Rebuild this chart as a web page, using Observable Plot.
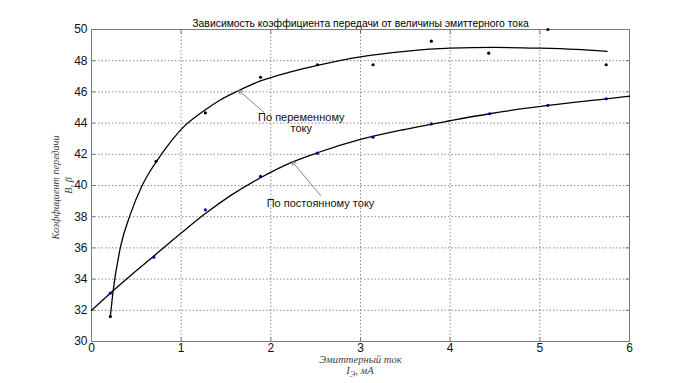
<!DOCTYPE html>
<html>
<head>
<meta charset="utf-8">
<script src="https://cdn.jsdelivr.net/npm/d3@7"></script>
<script src="https://cdn.jsdelivr.net/npm/@observablehq/plot@0.6"></script>
<style>
  html, body { margin: 0; padding: 0; background: #fff; }
</style>
</head>
<body>
<div id="chart"></div>
<script>
// ---- data ----
const titleText = "Зависимость коэффициента передачи от величины эмиттерного тока";
const yLabelLines = ["Коэффициент передачи", "B, β"];
const xLabelLine1 = "Эмиттерный ток";

const xTicks = [0, 1, 2, 3, 4, 5, 6];
const yTicks = [30, 32, 34, 36, 38, 40, 42, 44, 46, 48, 50];

// measured points: AC (по переменному току)
const acX = [0.21, 0.72, 1.27, 1.885, 2.52, 3.14, 3.79, 4.43, 5.09, 5.74];
const acY = [31.6, 41.55, 44.65, 46.94, 47.74, 47.74, 49.25, 48.48, 50.0, 47.74];
// measured points: DC (по постоянному току)
const dcX = [0.21, 0.695, 1.27, 1.885, 2.52, 3.14, 3.79, 4.44, 5.09, 5.74];
const dcY = [33.1, 35.4, 38.44, 40.58, 42.07, 43.1, 43.95, 44.6, 45.13, 45.56];

// fitted curves
const acFitX = [0.21, 0.238, 0.323, 0.435, 0.565, 0.658, 0.72, 0.85, 1.0, 1.27, 1.44, 1.643, 1.885, 2.2, 2.52, 3.0, 3.5, 4.0, 4.5, 5.0, 5.4, 5.75];
const acFitY = [31.6, 33.1, 36.05, 38.18, 40.0, 40.96, 41.5, 42.55, 43.6, 44.85, 45.5, 46.09, 46.7, 47.25, 47.7, 48.25, 48.6, 48.8, 48.85, 48.8, 48.72, 48.6];
const dcFitX = [0, 0.21, 0.45, 0.7, 1.0, 1.27, 1.55, 1.885, 2.238, 2.52, 3.0, 3.5, 4.0, 4.44, 5.09, 5.74, 6.0];
const dcFitY = [32.0, 33.1, 34.3, 35.5, 36.95, 38.2, 39.35, 40.5, 41.5, 42.1, 42.95, 43.6, 44.15, 44.6, 45.13, 45.55, 45.72];

// annotations
const annText = ["По переменному\nтоку", "По постоянному току"];
const annTextX = [2.34, 2.554];
const annTextY = [44.03, 38.87];
const annAnchor = ["middle", "start"];
const arrowTailX = [1.921, 2.554];
const arrowTailY = [44.70, 39.36];
const arrowTipX = [1.643, 2.238];
const arrowTipY = [46.09, 41.54];

// ---- build tables ----
const acPts = acX.map((x, i) => ({x, y: acY[i]}));
const dcPts = dcX.map((x, i) => ({x, y: dcY[i]}));
const acFit = acFitX.map((x, i) => ({x, y: acFitY[i]}));
const dcFit = dcFitX.map((x, i) => ({x, y: dcFitY[i]}));
const anns = annText.map((t, i) => ({t, x: annTextX[i], y: annTextY[i], a: annAnchor[i]}));
const arrows = arrowTailX.map((x1, i) => ({x1, y1: arrowTailY[i], x2: arrowTipX[i], y2: arrowTipY[i]}));

const serif = "'Liberation Serif', 'DejaVu Serif', serif";
const noLabel = () => "";
const tickStyle = {tickSize: -4, stroke: "#7a7a7a", tickFormat: noLabel, label: null};

const plot = Plot.plot({
  width: 695,
  height: 383,
  marginTop: 29,
  marginBottom: 42,
  marginLeft: 91,
  marginRight: 66,
  style: {fontFamily: "Arial, 'Liberation Sans', sans-serif", fontSize: "12px", background: "#fff", color: "#111"},
  x: {domain: [0, 6], label: null},
  y: {domain: [30, 50], label: null},
  marks: [
    Plot.gridX(xTicks, {stroke: "#000", strokeOpacity: 0.45, strokeDasharray: "1.5,2"}),
    Plot.gridY(yTicks, {stroke: "#000", strokeOpacity: 0.45, strokeDasharray: "1.5,2"}),
    Plot.frame({stroke: "#7a7a7a"}),
    // inward tick marks on all four sides
    Plot.axisX({ticks: xTicks, anchor: "bottom", ...tickStyle}),
    Plot.axisX({ticks: xTicks, anchor: "top", ...tickStyle}),
    Plot.axisY({ticks: yTicks, anchor: "left", ...tickStyle}),
    Plot.axisY({ticks: yTicks, anchor: "right", ...tickStyle}),
    // tick labels
    Plot.axisX({ticks: xTicks, tickFormat: d => String(d), tickSize: 0, tickPadding: 2, label: null, fontSize: 12}),
    Plot.axisY({ticks: yTicks, tickFormat: d => String(d), tickSize: 0, tickPadding: 4, label: null, fontSize: 12}),
    Plot.line(acFit, {x: "x", y: "y", curve: "monotone-x", stroke: "#000", strokeWidth: 1.3}),
    Plot.line(dcFit, {x: "x", y: "y", curve: "monotone-x", stroke: "#000", strokeWidth: 1.3}),
    Plot.dot(acPts, {x: "x", y: "y", r: 1.6, fill: "#000", stroke: "none"}),
    Plot.dot(dcPts, {x: "x", y: "y", r: 1.6, fill: "#0000a0", stroke: "none"}),
    Plot.arrow(arrows, {x1: "x1", y1: "y1", x2: "x2", y2: "y2", stroke: "#777", strokeWidth: 0.9, headLength: 7, bend: 0}),
    Plot.text(anns, {x: "x", y: "y", text: "t", textAnchor: d => d.a, fontSize: 11, fill: "#111", lineHeight: 1.05}),
    Plot.text([titleText], {frameAnchor: "top", dy: -10, fontSize: 10.4, fill: "#000"}),
    Plot.text([yLabelLines[0]], {frameAnchor: "left", textAnchor: "middle", dx: -36, dy: 2, rotate: -90, fontSize: 10.2, fontStyle: "italic", fontFamily: serif, fill: "#444"}),
    Plot.text([yLabelLines[1]], {frameAnchor: "left", textAnchor: "middle", dx: -23, dy: 0, rotate: -90, fontSize: 10.2, fontStyle: "italic", fontFamily: serif, fill: "#444"}),
    Plot.text([xLabelLine1], {frameAnchor: "bottom", dy: 21.5, fontSize: 10.6, fontStyle: "italic", fontFamily: serif, fill: "#444"})
  ]
});

// second line of the x label, with subscript "Э"
const svg = d3.select(plot);
const t = svg.append("text")
  .attr("x", (91 + 695 - 66) / 2)
  .attr("y", 383 - 42 + 33)
  .attr("text-anchor", "middle")
  .attr("font-family", serif)
  .attr("font-style", "italic")
  .attr("font-size", 10.6)
  .attr("fill", "#444");
t.append("tspan").text("I");
t.append("tspan").attr("font-size", 8).attr("dy", 3).text("Э");
t.append("tspan").attr("dy", -3).text(", мА");

document.getElementById("chart").appendChild(plot);
</script>
</body>
</html>
